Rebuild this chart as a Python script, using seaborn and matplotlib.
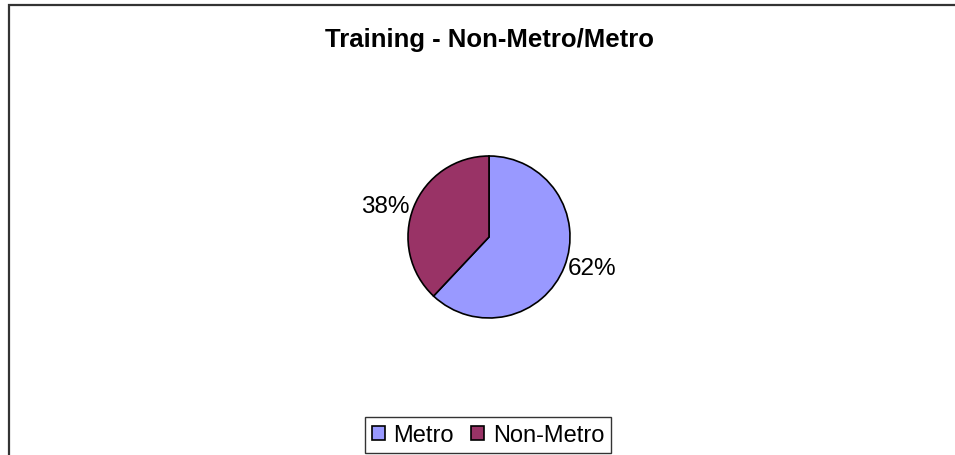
import matplotlib
matplotlib.use("Agg")
import matplotlib.pyplot as plt
import matplotlib.patches as patches
import seaborn as sns
import numpy as np

# Data
categories = ['Metro', 'Non-Metro']
values = [62, 38]
colors = ['#9999FF', '#993366']

sns.set_style("white")
plt.rcParams['font.family'] = ['Liberation Sans', 'DejaVu Sans']
plt.rcParams['text.color'] = 'black'

W, H = 955, 456
fig = plt.figure(figsize=(W / 100, H / 100), dpi=100)

# pie axes, center (489, 238), radius 81 px, limits +-1.25
cx, cy, r = 489, 238, 81
half = r * 1.25
ax = fig.add_axes([(cx - half) / W, (H - cy - half) / H, 2 * half / W, 2 * half / H])

pct_labels = [f"{v / sum(values) * 100:.0f}%" for v in values]
wedges, texts = ax.pie(values, labels=pct_labels, colors=colors, startangle=90,
                       counterclock=False, labeldistance=1.05,
                       wedgeprops=dict(edgecolor='black', linewidth=1.2),
                       textprops=dict(fontsize=17.5, color='black'))
ax.set_xlim(-1.25, 1.25)
ax.set_ylim(-1.25, 1.25)
ax.set_aspect('equal')

# Title
fig.text(cx / W, 1 - 40 / H, 'Training - Non-Metro/Metro', ha='center', va='center',
         fontsize=18.5, fontweight='bold', color='black')

# Legend
leg = fig.legend(wedges, categories, loc='center', bbox_to_anchor=(488 / W, 1 - 436 / H),
                 ncol=2, frameon=True, fancybox=False, fontsize=17,
                 handlelength=0.55, handleheight=0.55, handletextpad=0.35,
                 columnspacing=0.75, borderpad=0.3, borderaxespad=0.3,
                 labelcolor='black')
leg.get_frame().set_edgecolor('black')
leg.get_frame().set_linewidth(1.0)

# Outer chart border (cropped on right and bottom)
border = patches.Rectangle((8.5 / W, -0.1), 1.2, 1 - 5.5 / H + 0.1, transform=fig.transFigure,
                           fill=False, edgecolor='#333333', linewidth=1.6)
fig.add_artist(border)

fig.savefig('out.png', dpi=100)
